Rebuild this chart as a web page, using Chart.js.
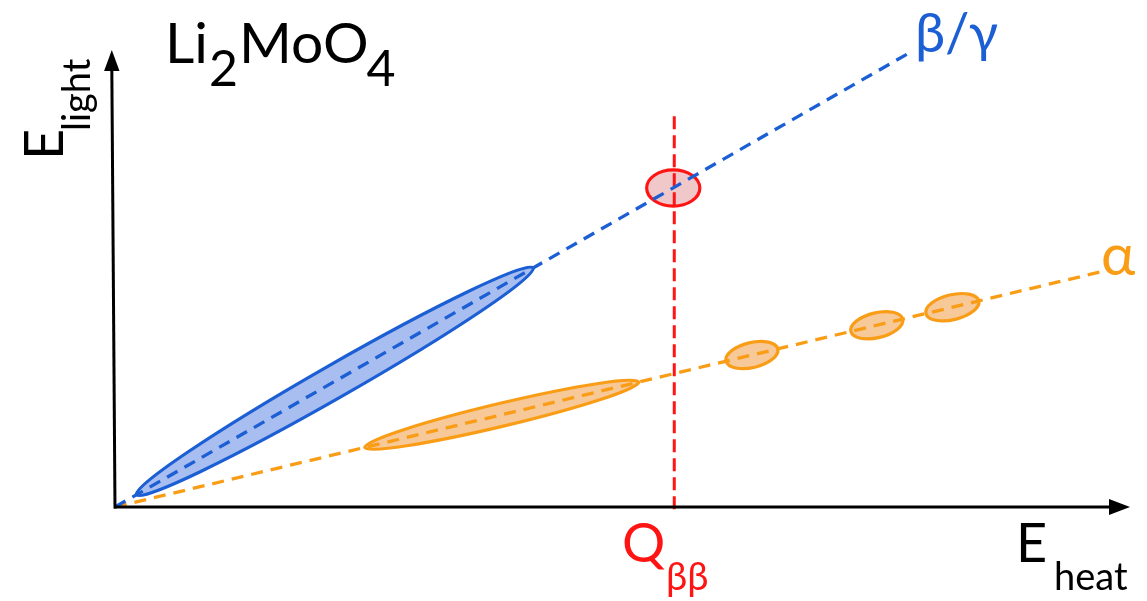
<!DOCTYPE html>
<html><head><meta charset="utf-8">
<style>html,body{margin:0;padding:0;background:#fff;overflow:hidden}canvas{display:block}</style>
<script src="https://cdn.jsdelivr.net/npm/chart.js@4.4.0/dist/chart.umd.min.js"></script>
</head><body>
<canvas id="c" width="1147" height="601"></canvas>
<script>
// ---- data (arbitrary energy units) ----
const axisRangeX = [0, 10];
const axisRangeY = [0, 10];
const betaLineX = [0, 7.82];
const betaLineY = [0, 9.93];
const alphaLineX = [0, 9.70];
const alphaLineY = [0, 5.14];
const qbbLineX = [5.51, 5.51];
const qbbLineY = [-0.05, 8.62];
const betaBandStart = [0.21];
const betaBandEnd = [4.12];
const alphaBandStart = [2.46, 6.02, 7.25, 7.99];
const alphaBandEnd = [5.16, 6.53, 7.76, 8.51];
const signalCenterX = [5.50];
const signalCenterY = [6.98];
const signalHalfX = [0.262];
const signalHalfY = [0.395];
const labelTexts = ['Li', '2', 'MoO', '4', 'E', 'light', 'E', 'heat', 'Q', 'ββ', 'β/γ', 'α'];

const BLUE = '#1c5fd4', BLUE_FILL = '#a8bef0';
const ORANGE = '#fa9d16', ORANGE_FILL = '#f7c898';
const RED = '#ff1414', RED_FILL = '#f1c8ca';

function pts(xs, ys){ return xs.map((x,i)=>({x, y: ys[i]})); }

const ellipsePlugin = {
  id: 'ellipses',
  beforeDatasetsDraw(chart){
    const ctx = chart.ctx, xs = chart.scales.x, ys = chart.scales.y;
    function band(x1, x2, lx, ly, minor, stroke, fill){
      const k = ly[1] / lx[1];
      const p1 = [xs.getPixelForValue(x1), ys.getPixelForValue(k*x1)];
      const p2 = [xs.getPixelForValue(x2), ys.getPixelForValue(k*x2)];
      const cx = (p1[0]+p2[0])/2, cy = (p1[1]+p2[1])/2;
      const a = Math.hypot(p2[0]-p1[0], p2[1]-p1[1])/2;
      const ang = Math.atan2(p2[1]-p1[1], p2[0]-p1[0]);
      ctx.beginPath(); ctx.ellipse(cx, cy, a, minor, ang, 0, Math.PI*2);
      ctx.fillStyle = fill; ctx.fill();
      ctx.lineWidth = 3.2; ctx.strokeStyle = stroke; ctx.stroke();
    }
    ctx.save();
    betaBandStart.forEach((s,i)=> band(s, betaBandEnd[i], betaLineX, betaLineY, 16.5, BLUE, BLUE_FILL));
    alphaBandStart.forEach((s,i)=> band(s, alphaBandEnd[i], alphaLineX, alphaLineY, i===0?11.5:12.5, ORANGE, ORANGE_FILL));
    signalCenterX.forEach((cxv,i)=>{
      const cx = xs.getPixelForValue(cxv), cy = ys.getPixelForValue(signalCenterY[i]);
      const rx = Math.abs(xs.getPixelForValue(cxv+signalHalfX[i]) - cx);
      const ry = Math.abs(ys.getPixelForValue(signalCenterY[i]+signalHalfY[i]) - cy);
      ctx.beginPath(); ctx.ellipse(cx, cy, rx, ry, 0, 0, Math.PI*2);
      ctx.fillStyle = RED_FILL; ctx.fill();
      ctx.lineWidth = 3.2; ctx.strokeStyle = RED; ctx.stroke();
    });
    ctx.restore();
  },
  afterDatasetsDraw(chart){
    const ctx = chart.ctx, xs = chart.scales.x, ys = chart.scales.y;
    const x0 = xs.getPixelForValue(axisRangeX[0]), y0 = ys.getPixelForValue(axisRangeY[0]);
    const xEnd = xs.getPixelForValue(axisRangeX[1]), yTop = ys.getPixelForValue(axisRangeY[1]);
    ctx.save();
    ctx.strokeStyle = '#000'; ctx.fillStyle = '#000'; ctx.lineWidth = 3;
    // x axis
    ctx.beginPath(); ctx.moveTo(x0-1, y0); ctx.lineTo(xEnd-16, y0); ctx.stroke();
    ctx.beginPath(); ctx.moveTo(xEnd, y0); ctx.lineTo(xEnd-21, y0-8); ctx.lineTo(xEnd-21, y0+8); ctx.closePath(); ctx.fill();
    // y axis (slightly leaning as in the sketch)
    const topX = x0 - 3.2;
    ctx.beginPath(); ctx.moveTo(x0, y0+1.5); ctx.lineTo(topX, yTop+16); ctx.stroke();
    ctx.beginPath(); ctx.moveTo(topX, yTop); ctx.lineTo(topX-7.7, yTop+21); ctx.lineTo(topX+7.7, yTop+21); ctx.closePath(); ctx.fill();

    const F = 'Lato, "Open Sans", sans-serif';
    ctx.textBaseline = 'alphabetic'; ctx.textAlign = 'left';
    // Li2MoO4
    ctx.fillStyle = '#000';
    ctx.font = '57px ' + F; ctx.fillText(labelTexts[0], 165, 63);
    let w = ctx.measureText(labelTexts[0]).width;
    ctx.font = '50px ' + F; ctx.fillText(labelTexts[1], 165 + w + 1, 86);
    let w2 = ctx.measureText(labelTexts[1]).width;
    ctx.font = '57px ' + F; ctx.fillText(labelTexts[2], 165 + w + w2 + 2, 63);
    let w3 = ctx.measureText(labelTexts[2]).width;
    ctx.font = '50px ' + F; ctx.fillText(labelTexts[3], 165 + w + w2 + w3, 86);
    // E_light rotated
    ctx.save(); ctx.translate(63, 160); ctx.rotate(-Math.PI/2);
    ctx.font = '54px ' + F; ctx.fillText(labelTexts[4], 0, 0);
    ctx.font = '38px ' + F; ctx.fillText(labelTexts[5], 29, 27);
    ctx.restore();
    // E_heat
    ctx.font = '54px ' + F; ctx.fillText(labelTexts[6], 1016, 562);
    ctx.font = '38px ' + F; ctx.fillText(labelTexts[7], 1054, 590);
    // Q_bb
    ctx.fillStyle = RED;
    ctx.font = '54px ' + F; ctx.fillText(labelTexts[8], 622, 562);
    ctx.font = '38px ' + F; ctx.fillText(labelTexts[9], 666, 590);
    // beta/gamma
    ctx.fillStyle = BLUE; ctx.font = '54px ' + F; ctx.fillText(labelTexts[10], 915, 52);
    // alpha
    ctx.fillStyle = ORANGE; ctx.font = '58px ' + F; ctx.fillText(labelTexts[11], 1101, 275);
    ctx.restore();
  }
};

new Chart(document.getElementById('c'), {
  type: 'scatter',
  data: {
    datasets: [
      { label: 'β/γ', data: pts(betaLineX, betaLineY), showLine: true, borderColor: BLUE, borderWidth: 3.3, borderDash: [12, 8], pointRadius: 0, fill: false },
      { label: 'α', data: pts(alphaLineX, alphaLineY), showLine: true, borderColor: ORANGE, borderWidth: 3.3, borderDash: [12, 8], pointRadius: 0, fill: false },
      { label: 'Qββ', data: pts(qbbLineX, qbbLineY), showLine: true, borderColor: RED, borderWidth: 3, borderDash: [13, 6], pointRadius: 0, fill: false, clip: false }
    ]
  },
  options: {
    responsive: false, animation: false, events: [],
    layout: { padding: { left: 115, right: 17, top: 50, bottom: 94 } },
    plugins: { legend: { display: false }, tooltip: { enabled: false } },
    scales: {
      x: { type: 'linear', min: axisRangeX[0], max: axisRangeX[1], display: false },
      y: { type: 'linear', min: axisRangeY[0], max: axisRangeY[1], display: false }
    }
  },
  plugins: [ellipsePlugin]
});
</script>
</body></html>
